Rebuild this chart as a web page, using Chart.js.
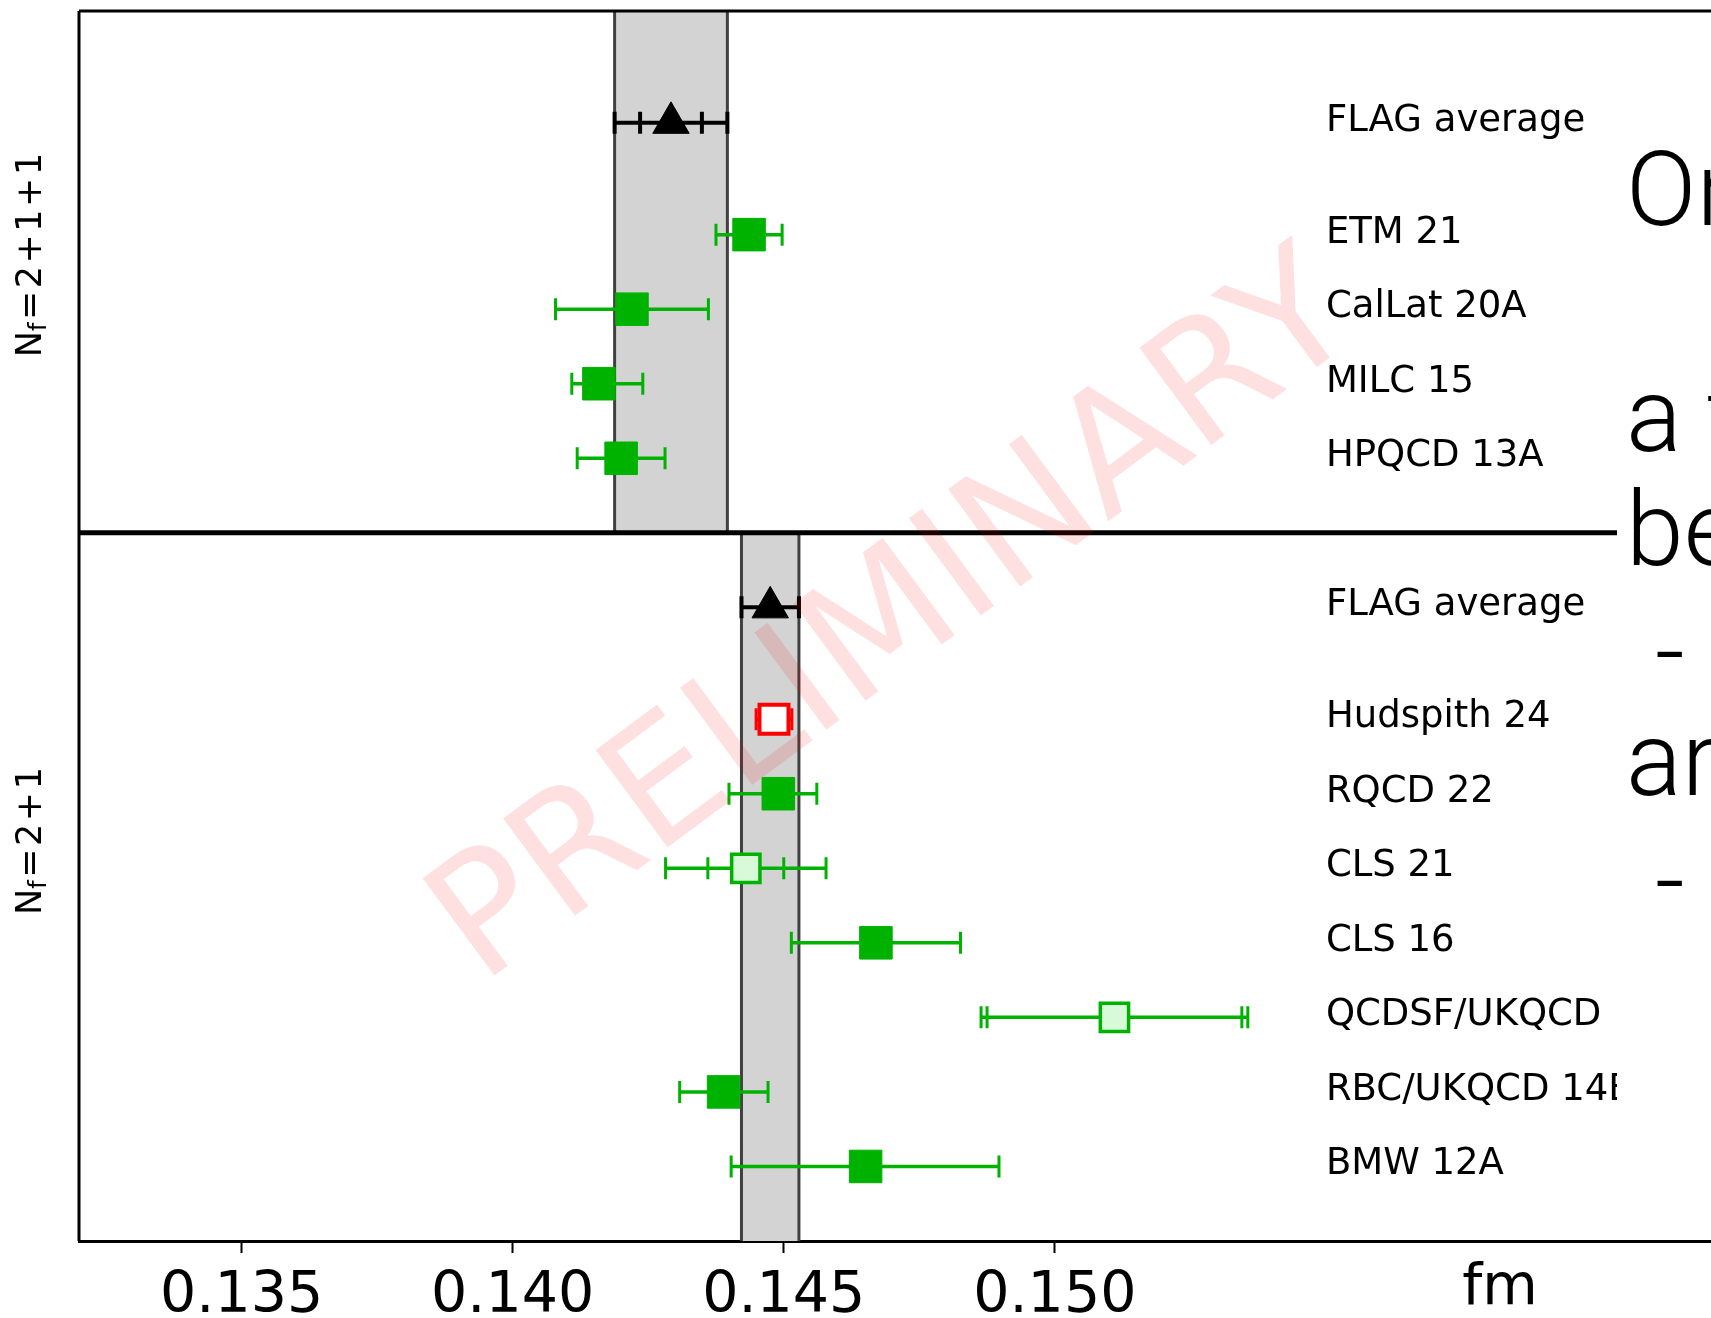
<!DOCTYPE html>
<html>
<head>
<meta charset="utf-8">
<title>w0 FLAG</title>
<script src="https://cdn.jsdelivr.net/npm/chart.js@4.4.1/dist/chart.umd.min.js"></script>
<style>
  html, body { margin: 0; padding: 0; background: #fff; overflow: hidden; }
  canvas { display: block; }
</style>
</head>
<body>
<canvas id="w0-chart" width="1900" height="1318"></canvas>
<script>
// rows, top to bottom (upper panel Nf=2+1+1, lower panel Nf=2+1)
const names = ['FLAG average', 'ETM 21', 'CalLat 20A', 'MILC 15', 'HPQCD 13A',
               'FLAG average', 'Hudspith 24', 'RQCD 22', 'CLS 21', 'CLS 16',
               'QCDSF/UKQCD 15B', 'RBC/UKQCD 14B', 'BMW 12A'];
const rowY = [15, 13.5, 12.5, 11.5, 10.5, 8.5, 7, 6, 5, 4, 3, 2, 1];
const w0 = [0.14292, 0.14436, 0.14220, 0.14159, 0.14200,
            0.14475, 0.14482, 0.14490, 0.14430, 0.14670,
            0.15110, 0.14389, 0.14651];
const errMinus = [0.00104, 0.00061, 0.00141, 0.00050, 0.00081,
                  0.00053, 0.00033, 0.00091, 0.00148, 0.00156,
                  0.00246, 0.00081, 0.00248];
const errPlus = [0.00104, 0.00061, 0.00141, 0.00081, 0.00081,
                 0.00053, 0.00033, 0.00071, 0.00148, 0.00156,
                 0.00246, 0.00082, 0.00246];
const innerErr = [0.00057, null, null, null, null,
                  null, null, null, 0.00070, null,
                  0.00235, null, null];
const marker = ['avg', 'full', 'full', 'full', 'full',
                'avg', 'red', 'full', 'open', 'full',
                'open', 'full', 'full'];

const xTicks = [0.135, 0.140, 0.145, 0.150];
const xRange = [0.132, 0.165];
const yRange = [0, 16.5];
const separatorY = 9.5;
const labelX = 0.155;
const nfLabels = ['2+1+1', '2+1'];
const slideLines = ['One', 'a t', 'between', '-', 'are', '-'];

const GREEN = '#00b200';

const markerStyles = {
  avg:  { pointStyle: 'triangle', radius: 21, fill: '#000000', edge: '#000000', width: 1 },
  full: { pointStyle: 'rect', radius: 23, fill: GREEN, edge: GREEN, width: 1 },
  open: { pointStyle: 'rect', radius: 20, fill: '#d8fad8', edge: GREEN, width: 3.5 },
  red:  { pointStyle: 'rect', radius: 20.5, fill: '#ffffff', edge: '#ff0000', width: 4 }
};

const datasets = Object.keys(markerStyles).map(function(kind) {
  const s = markerStyles[kind];
  const pts = [];
  names.forEach(function(n, i) {
    if (marker[i] === kind) pts.push({ x: w0[i], y: rowY[i] });
  });
  return {
    label: kind,
    data: pts,
    showLine: false,
    pointStyle: s.pointStyle,
    pointRadius: s.radius,
    pointBackgroundColor: s.fill,
    pointBorderColor: s.edge,
    pointBorderWidth: s.width
  };
});

function hLine(ctx, x0, x1, y) { ctx.moveTo(x0, y); ctx.lineTo(x1, y); }
function vLine(ctx, x, y0, y1) { ctx.moveTo(x, y0); ctx.lineTo(x, y1); }

// mathtext-like N_f=... label, rotated, centred on cy
function drawNf(ctx, xBase, cy, rest) {
  const gap = 2.5;
  ctx.save();
  ctx.font = '35px "DejaVu Sans"';
  const wN = ctx.measureText('N').width;
  const chars = ('=' + rest).split('');
  let wR = 0;
  chars.forEach(function(c) {
    wR += ctx.measureText(c).width + ((c === '=' || c === '+') ? 2 * gap : 0);
  });
  ctx.font = '24px "DejaVu Sans"';
  const wf = ctx.measureText('f').width;
  const total = wN + wf + wR;
  ctx.translate(xBase, cy + total / 2);
  ctx.rotate(-Math.PI / 2);
  ctx.textAlign = 'left';
  ctx.textBaseline = 'alphabetic';
  ctx.fillStyle = '#000';
  ctx.font = '35px "DejaVu Sans"';
  ctx.fillText('N', 0, 0);
  ctx.font = '24px "DejaVu Sans"';
  ctx.fillText('f', wN, 5);
  ctx.font = '35px "DejaVu Sans"';
  let pos = wN + wf;
  chars.forEach(function(c) {
    const op = (c === '=' || c === '+');
    if (op) pos += gap;
    ctx.fillText(c, pos, 0);
    pos += ctx.measureText(c).width + (op ? gap : 0);
  });
  ctx.restore();
}

const flagPlugin = {
  id: 'flagPlot',
  beforeDatasetsDraw(chart) {
    const ctx = chart.ctx;
    const x = chart.scales.x, y = chart.scales.y;
    ctx.save();
    // grey bands of the FLAG averages
    names.forEach(function(n, i) {
      if (marker[i] !== 'avg') return;
      const upper = rowY[i] > separatorY;
      const yt = y.getPixelForValue(upper ? yRange[1] : separatorY);
      const yb = y.getPixelForValue(upper ? separatorY : yRange[0]);
      const xa = x.getPixelForValue(w0[i] - errMinus[i]);
      const xb = x.getPixelForValue(w0[i] + errPlus[i]);
      ctx.fillStyle = '#d3d3d3';
      ctx.fillRect(xa, yt, xb - xa, yb - yt);
      ctx.strokeStyle = '#404040';
      ctx.lineWidth = 3;
      ctx.beginPath();
      vLine(ctx, xa, yt, yb);
      vLine(ctx, xb, yt, yb);
      ctx.stroke();
    });
    // error bars
    names.forEach(function(n, i) {
      const color = marker[i] === 'avg' ? '#000' : (marker[i] === 'red' ? '#ff0000' : GREEN);
      const lw = marker[i] === 'avg' ? 4 : 3.5;
      const yp = y.getPixelForValue(rowY[i]);
      const xl = x.getPixelForValue(w0[i] - errMinus[i]);
      const xr = x.getPixelForValue(w0[i] + errPlus[i]);
      const cap = 11;
      ctx.strokeStyle = color;
      ctx.lineWidth = lw;
      ctx.beginPath();
      hLine(ctx, xl, xr, yp);
      ctx.stroke();
      ctx.lineWidth = marker[i] === 'avg' ? 4 : 3;
      ctx.beginPath();
      vLine(ctx, xl, yp - cap, yp + cap);
      vLine(ctx, xr, yp - cap, yp + cap);
      if (innerErr[i] !== null) {
        const il = x.getPixelForValue(w0[i] - innerErr[i]);
        const ir = x.getPixelForValue(w0[i] + innerErr[i]);
        vLine(ctx, il, yp - cap, yp + cap);
        vLine(ctx, ir, yp - cap, yp + cap);
      }
      ctx.stroke();
    });
    ctx.restore();
  },
  afterDatasetsDraw(chart) {
    const ctx = chart.ctx;
    const area = chart.chartArea;
    const x = chart.scales.x, y = chart.scales.y;
    ctx.save();
    // frame and panel separator
    ctx.strokeStyle = '#000';
    ctx.lineWidth = 3;
    ctx.beginPath();
    vLine(ctx, area.left, area.top, area.bottom);
    hLine(ctx, area.left, area.right, area.top);
    ctx.stroke();
    ctx.lineWidth = 5;
    ctx.beginPath();
    hLine(ctx, area.left, area.right, y.getPixelForValue(separatorY));
    ctx.stroke();

    // watermark
    ctx.save();
    ctx.translate(897, 624);
    ctx.rotate(-36.5 * Math.PI / 180);
    ctx.font = '166px "DejaVu Sans"';
    ctx.fillStyle = 'rgba(255, 0, 0, 0.12)';
    ctx.textAlign = 'center';
    ctx.textBaseline = 'middle';
    ctx.fillText('PRELIMINARY', 0, 0);
    ctx.restore();

    // row labels
    ctx.fillStyle = '#000';
    ctx.font = '37px "DejaVu Sans"';
    ctx.textAlign = 'left';
    ctx.textBaseline = 'alphabetic';
    names.forEach(function(n, i) {
      ctx.fillText(n, x.getPixelForValue(labelX), y.getPixelForValue(rowY[i]) + 8);
    });

    // Nf labels
    drawNf(ctx, 41, 255, nfLabels[0]);
    drawNf(ctx, 41, 841, nfLabels[1]);

    // axis unit
    ctx.font = '57px "DejaVu Sans"';
    ctx.textAlign = 'center';
    ctx.fillText('fm', 1500, 1304);

    // slide text box covering the right side
    ctx.fillStyle = '#fff';
    ctx.fillRect(1617, 14, chart.width - 1617, 1224);
    ctx.fillStyle = '#000';
    ctx.textAlign = 'left';
    ctx.font = '300 104px Roboto';
    const baselines = [225, 451, 565, 687, 795, 916];
    slideLines.forEach(function(t, i) {
      ctx.fillText(t, t === '-' ? 1655 : 1626, baselines[i]);
    });
    ctx.restore();
  }
};

new Chart(document.getElementById('w0-chart'), {
  type: 'scatter',
  data: { datasets: datasets },
  options: {
    responsive: false,
    animation: false,
    layout: { autoPadding: false, padding: { left: 79, right: 32, top: 11, bottom: 0 } },
    plugins: {
      legend: { display: false },
      tooltip: { enabled: false }
    },
    scales: {
      x: {
        type: 'linear',
        min: xRange[0],
        max: xRange[1],
        afterBuildTicks: function(scale) {
          scale.ticks = xTicks.map(function(v) { return { value: v }; });
        },
        afterFit: function(scale) { scale.height = 77; },
        grid: { drawOnChartArea: false, drawTicks: true, tickLength: 12, tickColor: '#000', tickWidth: 2 },
        border: { display: true, color: '#000', width: 3 },
        ticks: {
          color: '#000',
          font: { family: 'DejaVu Sans', size: 57 },
          padding: 10,
          maxRotation: 0,
          autoSkip: false,
          callback: function(v) { return Number(v).toFixed(3); }
        }
      },
      y: {
        type: 'linear',
        min: yRange[0],
        max: yRange[1],
        display: false
      }
    }
  },
  plugins: [flagPlugin]
});
</script>
</body>
</html>
